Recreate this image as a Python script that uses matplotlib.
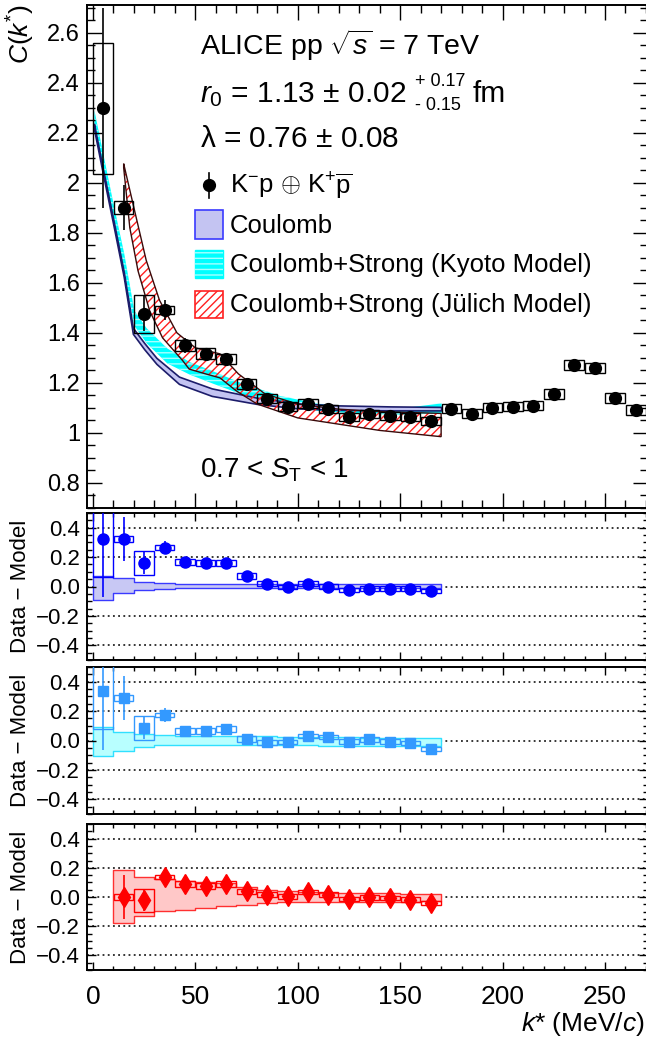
import numpy as np
import matplotlib.pyplot as plt
from matplotlib.ticker import MultipleLocator, NullFormatter
from matplotlib.patches import Rectangle
from matplotlib.lines import Line2D

plt.rcParams['font.family'] = ['Liberation Sans', 'DejaVu Sans']
plt.rcParams['mathtext.fontset'] = 'custom'
plt.rcParams['mathtext.rm'] = 'Liberation Sans'
plt.rcParams['mathtext.it'] = 'Liberation Sans:italic'
plt.rcParams['mathtext.bf'] = 'Liberation Sans:bold'
plt.rcParams['hatch.linewidth'] = 1.0

# ---- measured correlation function
k_data = [5, 15, 25, 35, 45, 55, 65, 75, 85, 95, 105, 115, 125, 135, 145, 155, 165,
          175, 185, 195, 205, 215, 225, 235, 245, 255, 265]
c_data = [2.297, 1.900, 1.476, 1.490, 1.350, 1.316, 1.296, 1.196, 1.136, 1.104, 1.116, 1.096,
          1.064, 1.076, 1.068, 1.064, 1.048, 1.096, 1.076, 1.100, 1.104, 1.108, 1.156, 1.272,
          1.260, 1.140, 1.092]
c_stat = [0.40, 0.09, 0.07, 0.04, 0.03, 0.02, 0.02, 0.015, 0.012, 0.01, 0.01, 0.01, 0.01, 0.01,
          0.01, 0.01, 0.01, 0.01, 0.01, 0.01, 0.01, 0.01, 0.01, 0.01, 0.01, 0.01, 0.01]
c_syst = [0.263, 0.025, 0.075, 0.016, 0.022, 0.022, 0.02, 0.02, 0.018, 0.018, 0.018, 0.016,
          0.016, 0.016, 0.016, 0.016, 0.016, 0.018, 0.018, 0.018, 0.018, 0.018, 0.02, 0.02,
          0.02, 0.02, 0.02]

# ---- model bands (top panel)
k_coul = [0.5, 5, 10, 15, 19.5, 25, 31, 42, 58, 80, 100, 120, 145, 170]
coul_lo = [2.215, 2.03, 1.83, 1.625, 1.396, 1.335, 1.276, 1.196, 1.148, 1.116, 1.098, 1.092, 1.090, 1.090]
coul_hi = [2.235, 2.05, 1.85, 1.645, 1.42, 1.36, 1.30, 1.225, 1.178, 1.141, 1.118, 1.110, 1.106, 1.104]

k_kyoto = [0.5, 5, 10, 15, 20, 26, 36, 47, 58, 71, 91, 110, 130, 150, 170]
kyoto_lo = [2.235, 2.05, 1.85, 1.645, 1.43, 1.36, 1.28, 1.235, 1.20, 1.16, 1.115, 1.09, 1.078, 1.075, 1.08]
kyoto_hi = [2.29, 2.11, 1.91, 1.72, 1.49, 1.42, 1.34, 1.285, 1.25, 1.205, 1.15, 1.118, 1.104, 1.10, 1.12]

k_jul_hi = [15, 20, 26, 32.5, 41, 50, 62, 71, 84, 100, 120, 140, 170]
jul_hi = [2.076, 1.90, 1.69, 1.53, 1.40, 1.34, 1.316, 1.236, 1.156, 1.115, 1.095, 1.085, 1.078]
k_jul_lo = [15, 18, 22, 27.7, 34, 43.7, 47, 55, 62, 70, 80, 100, 120, 140, 170]
jul_lo = [2.06, 1.82, 1.648, 1.488, 1.38, 1.29, 1.255, 1.236, 1.22, 1.168, 1.116, 1.06, 1.035, 1.01, 0.985]

# ---- data - model
k_res = [5, 15, 25, 35, 45, 55, 65, 75, 85, 95, 105, 115, 125, 135, 145, 155, 165]
res_coul = [0.326, 0.326, 0.159, 0.264, 0.165, 0.161, 0.161, 0.073, 0.02, -0.003, 0.02, 0.0,
            -0.025, -0.014, -0.014, -0.014, -0.03]
res_kyoto = [0.335, 0.289, 0.085, 0.173, 0.064, 0.064, 0.08, 0.012, -0.012, -0.012, 0.03, 0.023,
             -0.007, 0.007, -0.007, -0.019, -0.057]
res_jul = [0.0, -0.023, 0.137, 0.091, 0.073, 0.089, 0.038, 0.016, 0.004, 0.034, 0.016, -0.014,
           -0.003, -0.007, -0.018, -0.041]
res_stat = [0.40, 0.15, 0.075, 0.045, 0.025, 0.02, 0.02, 0.015, 0.012, 0.01, 0.01, 0.01, 0.01,
            0.01, 0.01, 0.01, 0.01]
res_syst = [0.26, 0.02, 0.08, 0.015, 0.02, 0.02, 0.02, 0.02, 0.016, 0.015, 0.015, 0.015, 0.015,
            0.015, 0.015, 0.015, 0.015]

bins_left = [0, 10, 20, 30, 40, 50, 60, 70, 80, 90, 100, 110, 120, 130, 140, 150, 160]
coul_band_lo = [-0.092, -0.041, -0.023, -0.014, -0.010, -0.010, -0.010, -0.010, -0.010, -0.010,
                -0.010, -0.010, -0.010, -0.010, -0.010, -0.010, -0.010]
coul_band_hi = [0.072, 0.055, 0.032, 0.027, 0.020, 0.018, 0.017, 0.016, 0.016, 0.016, 0.015,
                0.015, 0.015, 0.015, 0.015, 0.015, 0.015]
kyoto_band_lo = [-0.104, -0.069, -0.042, -0.032, -0.031, -0.031, -0.032, -0.033, -0.034, -0.034,
                 -0.034, -0.035, -0.035, -0.035, -0.035, -0.035, -0.035]
kyoto_band_hi = [0.092, 0.058, 0.046, 0.035, 0.032, 0.030, 0.030, 0.028, 0.028, 0.027, 0.025,
                 0.024, 0.022, 0.020, 0.019, 0.017, 0.016]
jul_band_hi = [0.182, 0.137, 0.125, 0.11, 0.10, 0.095, 0.068, 0.05, 0.04, 0.032, 0.028, 0.026,
               0.025, 0.024, 0.023, 0.023]
jul_band_lo = [-0.178, -0.128, -0.099, -0.087, -0.075, -0.064, -0.053, -0.041, -0.036, -0.034,
               -0.033, -0.032, -0.032, -0.031, -0.031, -0.030]

W, H = 646, 1039
fig = plt.figure(figsize=(W / 100, H / 100), dpi=100)


def box(top, bottom, left=87, right=648):
    return [left / W, 1 - bottom / H, (right - left) / W, (bottom - top) / H]


def fx(px):
    return px / W


def fy(py):
    return 1 - py / H


ax0 = fig.add_axes(box(5, 508))
ax1 = fig.add_axes(box(513, 660))
ax2 = fig.add_axes(box(667, 814))
ax3 = fig.add_axes(box(824, 970))

XLIM = (-2.9, 271)

# ---------------- top panel
ax0.fill_between(k_kyoto, kyoto_lo, kyoto_hi, color='#00ffff', lw=0, zorder=1)
ax0.fill_between(k_kyoto, kyoto_lo, kyoto_hi, facecolor='none', edgecolor='#a8ffff',
                 hatch='---', lw=0, zorder=1.1)
ax0.fill_between(k_coul, coul_lo, coul_hi, facecolor='#c4c4f2', edgecolor='#1c1c6a',
                 lw=1.2, zorder=1.5)
jx = np.r_[k_jul_hi, k_jul_lo[::-1]]
jy = np.r_[jul_hi, jul_lo[::-1]]
ax0.fill(jx, jy, facecolor='none', edgecolor='#ff2020', hatch='////', lw=0, zorder=2)
ax0.fill(jx, jy, facecolor='none', edgecolor='#3a0a0a', lw=1.0, zorder=2.1)

for k, c, s in zip(k_data, c_data, c_syst):
    ax0.add_patch(Rectangle((k - 4.8, c - s), 9.6, 2 * s, fill=False, ec='black', lw=1.0, zorder=3))
ax0.errorbar(k_data, c_data, yerr=c_stat, fmt='o', color='black', ms=8.5, elinewidth=1.2,
             capsize=0, zorder=4)

ax0.set_xlim(*XLIM)
ax0.set_ylim(0.7, 2.71)
ax0.yaxis.set_minor_locator(MultipleLocator(0.05))
ax0.set_yticks([0.8, 1.0, 1.2, 1.4, 1.6, 1.8, 2.0, 2.2, 2.4, 2.6])
ax0.set_yticklabels(['0.8', '1', '1.2', '1.4', '1.6', '1.8', '2', '2.2', '2.4', '2.6'])
ax0.tick_params(axis='y', which='major', length=11, labelsize=17, pad=5)
ax0.tick_params(axis='y', which='minor', length=5.5)
ax0.tick_params(axis='x', which='major', length=11)
ax0.tick_params(axis='x', which='minor', length=5.5)

# ---------------- residual panels
panels = [
    (ax1, k_res, res_coul, bins_left, coul_band_lo, coul_band_hi, '#0000ff', 'o', 8,
     '#c8c8f4', '#3a3aff'),
    (ax2, k_res, res_kyoto, bins_left, kyoto_band_lo, kyoto_band_hi, '#3399ff', 's', 7.5,
     '#b8ffff', '#30e0ff'),
    (ax3, k_res[1:], res_jul, bins_left[1:], jul_band_lo, jul_band_hi, '#ff0000', 'd', 10,
     '#ffc8c8', '#ff3030'),
]
for ax, kk, rr, bl, blo, bhi, col, mk, ms, bface, bedge in panels:
    off = len(k_res) - len(kk)
    edges = np.append(bl, bl[-1] + 10)
    ax.fill_between(edges, np.append(blo, blo[-1]), np.append(bhi, bhi[-1]), step='post',
                    facecolor=bface, edgecolor=bedge, lw=1.0, zorder=1)
    for yv in [-0.4, -0.2, 0.0, 0.2, 0.4]:
        ax.axhline(yv, color='black', ls=(0, (1.2, 2.2)), lw=1.1, zorder=0.5)
    for k, r, s in zip(kk, rr, res_syst[off:]):
        ax.add_patch(Rectangle((k - 4.8, r - s), 9.6, 2 * s, fill=False, ec=col, lw=1.0, zorder=3))
    ax.errorbar(kk, rr, yerr=res_stat[off:], fmt=mk, color=col, ms=ms, elinewidth=1.2,
                capsize=0, zorder=4)
    ax.set_xlim(*XLIM)
    ax.set_ylim(-0.5, 0.5)
    ax.set_yticks([-0.4, -0.2, 0.0, 0.2, 0.4])
    ax.set_yticklabels(['\u22120.4', '\u22120.2', '0.0', '0.2', '0.4'])
    ax.yaxis.set_minor_locator(MultipleLocator(0.05))
    ax.tick_params(axis='y', which='major', length=6.5, labelsize=16, pad=5)
    ax.tick_params(axis='y', which='minor', length=3.5)
    ax.tick_params(axis='x', which='major', length=5.5)
    ax.tick_params(axis='x', which='minor', length=3)
    fig.text(fx(21), (ax.get_position().y0 + ax.get_position().y1) / 2, 'Data \u2212 Model',
             rotation=90, ha='center', va='center', fontsize=16)

for ax in [ax0, ax1, ax2, ax3]:
    ax.xaxis.set_major_locator(MultipleLocator(50))
    ax.xaxis.set_minor_locator(MultipleLocator(10))
    ax.tick_params(which='both', direction='in', top=True, right=True, width=1.0)
    for sp in ax.spines.values():
        sp.set_linewidth(1.4)
    if ax is not ax3:
        ax.xaxis.set_major_formatter(NullFormatter())

ax3.tick_params(axis='x', labelsize=19, pad=11)

# ---------------- labels and texts
fig.text(fx(21), fy(4), r'$C(k^{*})$', rotation=90, ha='center', va='top', fontsize=19)
fig.text(fx(645), fy(1024), r'$k$* (MeV/$c$)', ha='right', va='center', fontsize=19)

fig.text(fx(200), fy(55), r'ALICE pp $\sqrt{s}$ = 7 TeV', fontsize=20.5, va='baseline')
fig.text(fx(200), fy(102), r'$r_{0}$ = 1.13 $\pm$ 0.02', fontsize=21.5, va='baseline')
fig.text(fx(415), fy(86), '+ 0.17', fontsize=13, va='baseline')
fig.text(fx(415), fy(110), '- 0.15', fontsize=13, va='baseline')
fig.text(fx(473), fy(102), 'fm', fontsize=21.5, va='baseline')
fig.text(fx(200), fy(147), '\u03bb = 0.76 $\\pm$ 0.08', fontsize=21.5, va='baseline')
fig.text(fx(200), fy(477), r'0.7 < $S_{\mathrm{T}}$ < 1', fontsize=20, va='baseline')

# legend (drawn by hand in figure pixels)
fig.add_artist(Line2D([fx(209), fx(209)], [fy(173), fy(198)], color='black', lw=1.2))
fig.add_artist(Line2D([fx(209)], [fy(185)], marker='o', color='black', ms=8.5))
fig.text(fx(230), fy(193), r'K$^{-}$p $\oplus$ K$^{+}\overline{\mathrm{p}}$', fontsize=18.5,
         va='baseline')

fig.add_artist(Rectangle((fx(195), fy(239)), fx(28), 29 / H, facecolor='#c4c4f2',
                         edgecolor='#3a3aff', lw=1.2))
fig.text(fx(230), fy(233), 'Coulomb', fontsize=18.5, va='baseline')

fig.add_artist(Rectangle((fx(195), fy(278)), fx(28), 28 / H, facecolor='#00ffff',
                         edgecolor='#00ffff', lw=1.0))
fig.add_artist(Rectangle((fx(195), fy(278)), fx(28), 28 / H, facecolor='none',
                         edgecolor='#a8ffff', hatch='---', lw=0))
fig.text(fx(230), fy(272), 'Coulomb+Strong (Kyoto Model)', fontsize=18.5, va='baseline')

fig.add_artist(Rectangle((fx(195), fy(318)), fx(28), 27 / H, facecolor='none',
                         edgecolor='#ff2020', hatch='////', lw=1.2))
fig.text(fx(230), fy(312), 'Coulomb+Strong (J\u00fclich Model)', fontsize=18.5, va='baseline')

fig.savefig('out.png', dpi=100)
